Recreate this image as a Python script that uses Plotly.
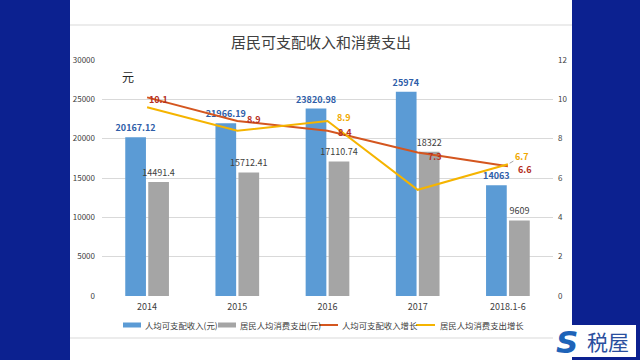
import plotly.graph_objects as go

categories = ["2014", "2015", "2016", "2017", "2018.1-6"]
income = [20167.12, 21966.19, 23820.98, 25974, 14063]
income_labels = ["20167.12", "21966.19", "23820.98", "25974", "14063"]
consumption = [14491.4, 15712.41, 17110.74, 18322, 9609]
consumption_labels = ["14491.4", "15712.41", "17110.74", "18322", "9609"]
income_growth = [10.1, 8.9, 8.4, 7.3, 6.6]
consumption_growth = [9.6, 8.4, 8.9, 5.4, 6.7]

series_names = ["人均可支配收入(元)", "居民人均消费支出(元)", "人均可支配收入增长", "居民人均消费支出增长"]
series_colors = ["#5B9BD5", "#A5A5A5", "#D4561F", "#F5B400"]

W, H = 640, 360
ML, MR, MT, MB = 102, 87, 60, 64
PW, PH = W - ML - MR, H - MT - MB

def px_x(x):
    return (x - ML) / PW

def px_y(y):
    return (H - MB - y) / PH

FONT = "Noto Sans CJK SC, Noto Sans, sans-serif"
RED_TXT = "#B5301F"
YEL_TXT = "#F0A800"

fig = go.Figure()
fig.add_trace(go.Bar(
    x=categories, y=income, name=series_names[0],
    marker=dict(color=series_colors[0], line=dict(width=0)),
    text=income_labels, textposition="outside", cliponaxis=False, constraintext="none",
    textfont=dict(size=9, color="#2E5DA8", family=FONT, weight="bold"),
))
fig.add_trace(go.Bar(
    x=categories, y=consumption, name=series_names[1],
    marker=dict(color=series_colors[1], line=dict(width=0)),
    text=consumption_labels, textposition="outside", cliponaxis=False, constraintext="none",
    textfont=dict(size=9, color="#404040", family=FONT),
))
fig.add_trace(go.Scatter(
    x=categories, y=income_growth, name=series_names[2], yaxis="y2",
    mode="lines", line=dict(color=series_colors[2], width=2),
))
fig.add_trace(go.Scatter(
    x=categories, y=consumption_growth, name=series_names[3], yaxis="y2",
    mode="lines", line=dict(color=series_colors[3], width=2),
))

shapes = [
    dict(type="rect", xref="paper", yref="paper", layer="below",
         x0=px_x(70), x1=px_x(572), y0=px_y(362), y1=px_y(-2),
         fillcolor="white", line=dict(width=0)),
    dict(type="line", xref="paper", yref="paper", layer="below",
         x0=px_x(70), x1=px_x(572), y0=px_y(25), y1=px_y(25),
         line=dict(color="#D9D9D9", width=1)),
    dict(type="line", xref="paper", yref="paper", layer="below",
         x0=px_x(70), x1=px_x(572), y0=px_y(338), y1=px_y(338),
         line=dict(color="#D9D9D9", width=1)),
    dict(type="rect", xref="paper", yref="paper", layer="above",
         x0=px_x(553), x1=px_x(636), y0=px_y(357), y1=px_y(325),
         fillcolor="white", line=dict(width=0)),
]

def ann(text, x, y, size, color, family=FONT, xanchor="center"):
    return dict(text=text, xref="paper", yref="paper", x=px_x(x), y=px_y(y),
                xanchor=xanchor, yanchor="middle", showarrow=False,
                font=dict(size=size, color=color, family=family))

annotations = [
    ann("居民可支配收入和消费支出", 321, 41, 15, "#404040"),
    ann("元", 128, 76, 12, "#262626"),
    ann("<b><i>S</i></b>", 567, 342, 31, "#1E63B8", family="DejaVu Sans"),
    ann("税屋", 608, 341, 21, "#2A4F9E"),
]

# custom compact legend (as in the reference)
legend_sym_x = [123, 218, 319, 416]
legend_txt_x = [143, 238, 340, 438]
LY = 325
for i, (name, col) in enumerate(zip(series_names, series_colors)):
    sx = legend_sym_x[i]
    if i < 2:
        shapes.append(dict(type="rect", xref="paper", yref="paper",
                           x0=px_x(sx), x1=px_x(sx + 18), y0=px_y(LY + 2.5), y1=px_y(LY - 2.5),
                           fillcolor=col, line=dict(width=0)))
    else:
        shapes.append(dict(type="line", xref="paper", yref="paper",
                           x0=px_x(sx), x1=px_x(sx + 19), y0=px_y(LY), y1=px_y(LY),
                           line=dict(color=col, width=2)))
    annotations.append(ann(name, legend_txt_x[i], LY, 8.4, "#404040", xanchor="left"))

# growth line labels (positioned on the data scale; x is the category index)
income_shift = [(0, -2), (8, 1), (8, -2), (8, -4), (8, -3)]
for idx, (val, (dx, dy)) in enumerate(zip(income_growth, income_shift)):
    annotations.append(dict(
        text=str(val), x=idx, y=val, xref="x", yref="y2", showarrow=False,
        xanchor="left", yanchor="middle", xshift=dx, yshift=dy,
        font=dict(size=9, color=RED_TXT, family=FONT, weight="bold")))
annotations.append(dict(
    text=str(consumption_growth[2]), x=2, y=consumption_growth[2],
    xref="x", yref="y2", showarrow=False, xanchor="left", yanchor="middle",
    xshift=7, yshift=3, font=dict(size=9, color=YEL_TXT, family=FONT, weight="bold")))
annotations.append(dict(
    text=str(consumption_growth[4]), x=4, y=consumption_growth[4],
    xref="x", yref="y2", showarrow=True, arrowhead=0, arrowwidth=1,
    arrowcolor="#A6A6A6", ax=14, ay=-8, standoff=2,
    font=dict(size=9, color=YEL_TXT, family=FONT, weight="bold")))

fig.update_layout(
    width=W, height=H,
    margin=dict(l=ML, r=MR, t=MT, b=MB),
    paper_bgcolor="#0C2190", plot_bgcolor="white",
    barmode="group", bargap=0.49, bargroupgap=0.1,
    font=dict(family=FONT, size=9, color="#595959"),
    xaxis=dict(type="category", range=[-0.5, 4.5], showgrid=False, showline=False,
               ticks="", tickfont=dict(size=9, color="#404040"), ticklabelstandoff=4),
    yaxis=dict(range=[0, 30000], dtick=5000, tickformat="d", showgrid=True,
               gridcolor="#D9D9D9", zeroline=False, showline=False,
               tickfont=dict(size=8, color="#404040"), ticklabelstandoff=6),
    yaxis2=dict(range=[0, 12], dtick=2, overlaying="y", side="right", showgrid=False,
                zeroline=False, showline=False, tickfont=dict(size=8, color="#404040"),
                ticklabelstandoff=4),
    showlegend=False,
    shapes=shapes, annotations=annotations,
)

fig.write_html("out.html", config={"displayModeBar": False},
               post_script="document.body.style.margin='0';document.body.style.overflow='hidden';")
